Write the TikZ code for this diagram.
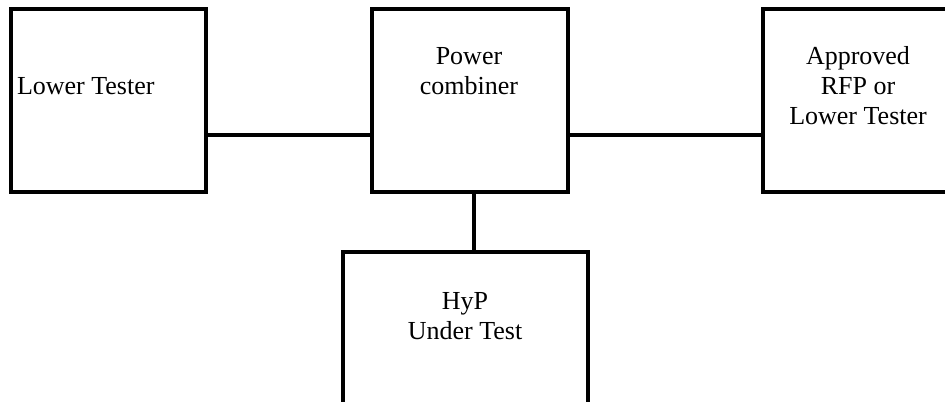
\documentclass[tikz,border=0pt]{standalone}
\usepackage{fontspec}
\setmainfont{Liberation Serif}

\tikzset{every picture/.style={line width=3pt}}
\tikzset{
	blockbox/.style={draw, rectangle, inner sep=0pt, line width=3pt},
	blocktext/.style={inner sep=0.75pt, align=center, font=\fontsize{19.5}{22.5}\selectfont},
}

\begin{document}
\begin{tikzpicture}[x=0.75pt,y=0.75pt,yscale=-1,xscale=1]
	%set diagram to 945 x 401, boxes running past the edge are cut
	\clip (0,0) rectangle (945,401);
	
	%Shape: Rectangle [id:lt] 
	\node [blockbox, minimum width=146.25pt, minimum height=137.25pt] (lt) at (108.5,100.5) {};
	%Shape: Rectangle [id:pc] 
	\node [blockbox, minimum width=147pt, minimum height=137.25pt] (pc) at (470,100.5) {};
	%Shape: Rectangle [id:rfp] 
	\node [blockbox, minimum width=147pt, minimum height=137.25pt] (rfp) at (861,100.5) {};
	%Shape: Rectangle [id:hyp] 
	\node [blockbox, minimum width=183.75pt, minimum height=150pt] (hyp) at (465.5,352) {};
	
	%Straight Lines [id:bus] 
	\coordinate (bus) at (0,135);
	\draw    (lt.east |- bus) -- (pc.west |- bus) ;
	%Straight Lines [id:bus2] 
	\draw    (pc.east |- bus) -- (rfp.west |- bus) ;
	%Straight Lines [id:drop] 
	\draw    ([xshift=3pt]pc.south) -- ([xshift=3pt]pc.south |- hyp.north) ;
	
	% Text Node
	\node [blocktext, anchor=west] (lttext) at (14,86) {Lower Tester};
	% Text Node
	\node [blocktext] (pctext) at (469,71) {Power\\combiner};
	% Text Node
	\node [blocktext] (rfptext) at (858,86) {Approved\\RFP or\\Lower Tester};
	% Text Node
	\node [blocktext] (hyptext) at (465,316) {HyP\\Under Test};
	
\end{tikzpicture}
\end{document}
